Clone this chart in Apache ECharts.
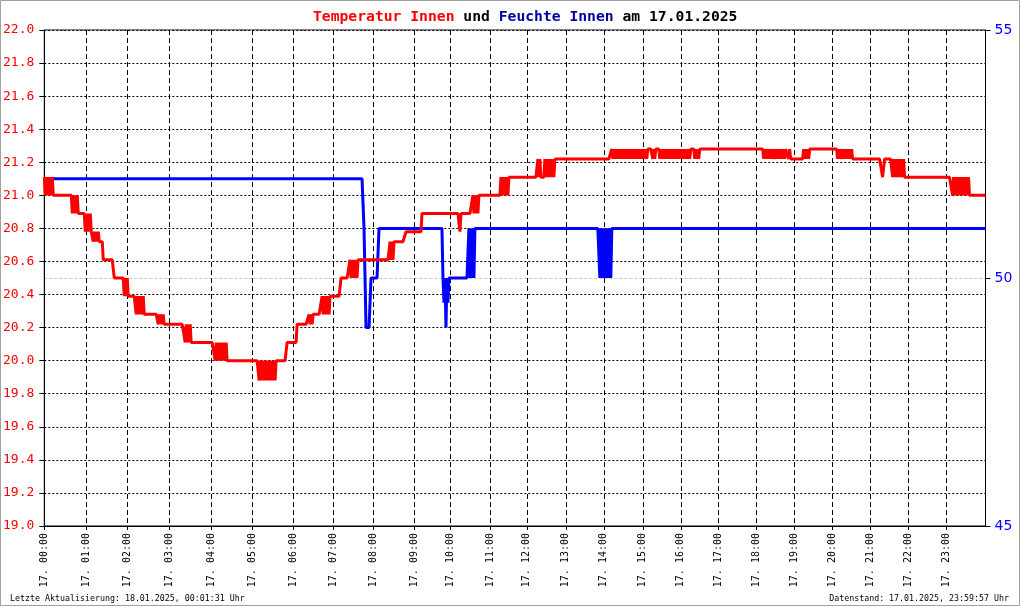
<!DOCTYPE html>
<html>
<head>
<meta charset="utf-8">
<script src="https://cdn.jsdelivr.net/npm/echarts@6/dist/echarts.min.js"></script>
<style>
  html, body { margin: 0; padding: 0; background: #fff; }
  #chart { width: 1020px; height: 606px; }
</style>
</head>
<body>
<div id="chart"></div>
<script>
  // one category per logged record, records are not evenly spread over the day
  var sampleCount = 943;

  // record index where each hour starts
  var hourStart = [0, 42, 83, 125, 167, 208, 249, 289, 329, 370, 406, 446,
                   483, 522, 560, 599, 637, 675, 713, 751, 789, 827, 865, 903];
  var hourLabels = ['17. 00:00', '17. 01:00', '17. 02:00', '17. 03:00', '17. 04:00', '17. 05:00',
                    '17. 06:00', '17. 07:00', '17. 08:00', '17. 09:00', '17. 10:00', '17. 11:00',
                    '17. 12:00', '17. 13:00', '17. 14:00', '17. 15:00', '17. 16:00', '17. 17:00',
                    '17. 18:00', '17. 19:00', '17. 20:00', '17. 21:00', '17. 22:00', '17. 23:00'];

  // temperatur innen: [record index, value from there on]
  var tempSteps = [
    [0, 21.0], [34, 20.89], [47, 20.78], [56, 20.72], [59, 20.61], [70, 20.5],
    [84, 20.39], [101, 20.28], [120, 20.22], [147, 20.11], [183, 20.0],
    [243, 20.11], [253, 20.22], [270, 20.28], [286, 20.39], [297, 20.5], [314, 20.61],
    [351, 20.72], [362, 20.78], [378, 20.89], [416, 20.78], [417, 20.89],
    [436, 21.0], [466, 21.11], [512, 21.22], [568, 21.28], [747, 21.22], [766, 21.28],
    [810, 21.22], [839, 21.11], [841, 21.22], [861, 21.11], [927, 21.0]
  ];
  // stretches where the reading flickered between two values: [from, to, value a, value b]
  var tempFlicker = [
    [0, 10, 21.11, 21.0], [28, 34, 20.89, 21.0], [41, 47, 20.78, 20.89], [49, 56, 20.72, 20.78],
    [80, 84, 20.39, 20.5], [92, 101, 20.28, 20.39], [114, 120, 20.22, 20.28],
    [141, 147, 20.11, 20.22], [171, 183, 20.0, 20.11], [215, 232, 19.88, 20.0],
    [264, 270, 20.22, 20.28], [278, 286, 20.39, 20.28], [306, 314, 20.61, 20.5],
    [346, 351, 20.72, 20.61], [429, 436, 21.0, 20.89], [457, 466, 21.11, 21.0],
    [494, 497, 21.22, 21.11], [500, 512, 21.11, 21.22],
    [568, 605, 21.28, 21.22], [609, 613, 21.22, 21.28], [616, 648, 21.22, 21.28],
    [651, 656, 21.22, 21.28],
    [720, 730, 21.22, 21.28], [731, 742, 21.22, 21.28], [745, 747, 21.22, 21.28],
    [760, 766, 21.28, 21.22],
    [794, 798, 21.22, 21.28], [799, 810, 21.22, 21.28],
    [849, 861, 21.11, 21.22],
    [909, 920, 21.0, 21.11], [922, 927, 21.0, 21.11]
  ];

  // feuchte innen (%): [record index, value from there on]
  var humSteps = [
    [0, 52], [320, 51], [321, 50], [322, 49], [327, 50], [335, 51],
    [399, 50], [400, 49.5], [401, 50], [402, 49], [403, 50], [404, 49.5], [405, 50],
    [432, 51], [556, 50], [557, 51]
  ];
  var humFlicker = [
    [425, 432, 51, 50], [559, 568, 50, 51]
  ];

  var mono = 'DejaVu Sans Mono';

  // hold each logged value until the next change, flicker stretches alternate record by record
  function expand(steps, flicker) {
    var out = [];
    var k = 0;
    for (var i = 0; i < sampleCount; i++) {
      while (k + 1 < steps.length && steps[k + 1][0] <= i) k++;
      var v = steps[k][1];
      for (var f = 0; f < flicker.length; f++) {
        var b = flicker[f];
        if (i >= b[0] && i < b[1]) v = (i - b[0]) % 2 === 0 ? b[2] : b[3];
      }
      out.push(v);
    }
    return out;
  }

  var categories = [];
  for (var i = 0; i < sampleCount; i++) categories.push(String(i));

  function isHour(index) {
    return hourStart.indexOf(index) >= 0;
  }

  var chart = echarts.init(document.getElementById('chart'));
  chart.setOption({
    animation: false,
    title: {
      text: '{r|Temperatur Innen} und {b|Feuchte Innen} am 17.01.2025',
      left: 308,
      top: 5,
      textStyle: {
        fontFamily: mono,
        fontSize: 14.7,
        fontWeight: 'bold',
        color: '#000',
        rich: {
          r: { fontFamily: mono, fontSize: 14.7, fontWeight: 'bold', color: '#ff0000' },
          b: { fontFamily: mono, fontSize: 14.7, fontWeight: 'bold', color: '#0000a0' }
        }
      }
    },
    grid: {
      left: 43.5,
      right: 34.5,
      top: 30,
      bottom: 80,
      show: true,
      borderColor: '#000',
      borderWidth: 1
    },
    xAxis: {
      type: 'category',
      data: categories,
      boundaryGap: false,
      z: 3,
      axisLine: { lineStyle: { color: '#000', width: 1 } },
      axisTick: { show: true, interval: isHour, length: 4, lineStyle: { color: '#000' } },
      axisLabel: {
        interval: isHour,
        rotate: 90,
        margin: 7,
        fontFamily: mono,
        fontSize: 10,
        color: '#000',
        formatter: function (v, idx) {
          var h = hourStart.indexOf(idx);
          return h >= 0 ? hourLabels[h] : '';
        }
      },
      splitLine: {
        show: true,
        interval: isHour,
        lineStyle: { color: '#000', type: [5, 3], width: 1 }
      }
    },
    yAxis: [
      {
        type: 'value',
        position: 'left',
        min: 19,
        max: 22,
        interval: 0.2,
        z: 3,
        axisLine: { show: true, lineStyle: { color: '#000' } },
        axisTick: { show: true, length: 5, lineStyle: { color: '#000' } },
        axisLabel: {
          margin: 10,
          fontFamily: mono,
          fontSize: 13,
          color: '#ff0000',
          formatter: function (v) { return v.toFixed(1); }
        },
        splitLine: { show: true, lineStyle: { color: '#000', type: [2, 2], width: 1 } }
      },
      {
        type: 'value',
        position: 'right',
        min: 45,
        max: 55,
        interval: 5,
        z: 1,
        axisLine: { show: true, lineStyle: { color: '#000' } },
        axisTick: { show: true, length: 5, lineStyle: { color: '#000' } },
        axisLabel: {
          margin: 9,
          fontFamily: 'DejaVu Sans',
          fontSize: 14,
          color: '#0000ff'
        },
        splitLine: { show: true, lineStyle: { color: '#c8c8c8', type: [3, 2], width: 1 } }
      }
    ],
    series: [
      {
        name: 'Feuchte Innen',
        type: 'line',
        yAxisIndex: 1,
        data: expand(humSteps, humFlicker),
        symbol: 'none',
        lineStyle: { color: '#0000ff', width: 3, join: 'bevel', cap: 'butt' }
      },
      {
        name: 'Temperatur Innen',
        type: 'line',
        yAxisIndex: 0,
        data: expand(tempSteps, tempFlicker),
        symbol: 'none',
        lineStyle: { color: '#ff0000', width: 3, join: 'bevel', cap: 'butt' }
      }
    ],
    graphic: [
      {
        type: 'rect',
        shape: { x: 0.5, y: 0.5, width: 1019, height: 605 },
        style: { fill: 'none', stroke: '#a0a0a0', lineWidth: 1 },
        silent: true
      },
      {
        type: 'text',
        x: 10,
        y: 599,
        style: {
          text: 'Letzte Aktualisierung: 18.01.2025, 00:01:31 Uhr',
          fontFamily: mono,
          fontSize: 8.3,
          fill: '#000',
          textVerticalAlign: 'middle'
        }
      },
      {
        type: 'text',
        x: 1009,
        y: 599,
        style: {
          text: 'Datenstand: 17.01.2025, 23:59:57 Uhr',
          fontFamily: mono,
          fontSize: 8.3,
          fill: '#000',
          textAlign: 'right',
          textVerticalAlign: 'middle'
        }
      }
    ]
  });
</script>
</body>
</html>
